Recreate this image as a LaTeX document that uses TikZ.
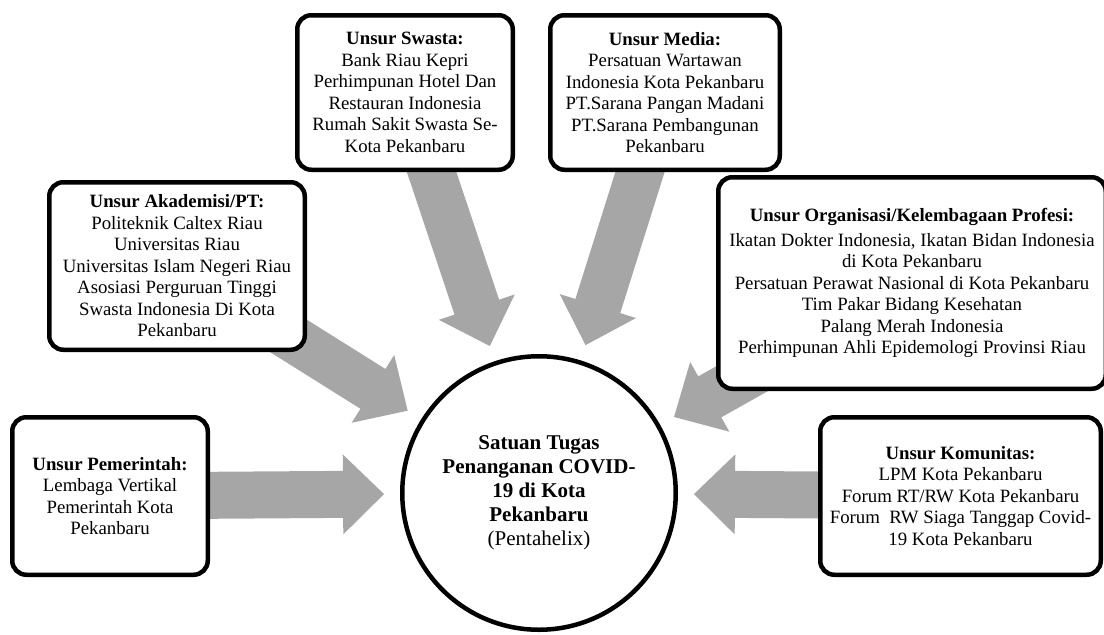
\documentclass[tikz,border=0pt]{standalone}
\usepackage{fontspec}
\setmainfont{Liberation Serif}
\usetikzlibrary{calc,backgrounds}
\definecolor{arrowgrey}{RGB}{166,166,166}
\tikzset{
  unitbox/.style={draw=black, line width=4.5pt, rounded corners=14pt, fill=white,
    align=center, inner sep=0pt, font=\fontsize{18.8}{21.5}\selectfont},
  hubcircle/.style={circle, draw=black, line width=4.5pt, fill=white, align=center,
    inner sep=0pt, minimum size=273.5pt, font=\fontsize{21}{24}\selectfont},
  arrowfill/.style={fill=arrowgrey},
}
\newcommand\blockarrow[1]{%
  \coordinate (T#1) at ($(circ.center)!155pt!(#1.center)$);
  \coordinate (H#1) at ($(T#1)!41pt!(#1.center)$);
  \fill[arrowfill] ($(#1.center)!23.5pt!90:(T#1)$) -- ($(H#1)!23.5pt!90:(T#1)$)
    -- ($(H#1)!40pt!90:(T#1)$) -- (T#1) -- ($(H#1)!40pt!-90:(T#1)$)
    -- ($(H#1)!23.5pt!-90:(T#1)$) -- ($(#1.center)!23.5pt!-90:(T#1)$) -- cycle;
}
\begin{document}
\begin{tikzpicture}[x=1pt,y=-1pt]
\useasboundingbox (0,0) rectangle (1104,635);

\node[hubcircle] (circ) at (539,493)
  {\textbf{Satuan Tugas}\\\textbf{Penanganan COVID-}\\\textbf{19 di Kota}\\\textbf{Pekanbaru}\\(Pentahelix)};

\node[unitbox, minimum width=195.5pt, minimum height=157.5pt] (pem) at (110,496)
  {\textbf{Unsur Pemerintah:}\\Lembaga Vertikal\\Pemerintah Kota\\Pekanbaru};

\node[unitbox, minimum width=255.5pt, minimum height=167.5pt] (aka) at (177,266)
  {\textbf{Unsur Akademisi/PT:}\\Politeknik Caltex Riau\\Universitas Riau\\Universitas Islam Negeri Riau\\Asosiasi Perguruan Tinggi\\Swasta Indonesia Di Kota\\Pekanbaru};

\node[unitbox, minimum width=215.5pt, minimum height=154.5pt] (swa) at (405,92.5)
  {\textbf{Unsur Swasta:}\\Bank Riau Kepri\\Perhimpunan Hotel Dan\\Restauran Indonesia\\Rumah Sakit Swasta Se-\\Kota Pekanbaru};

\node[unitbox, minimum width=229.5pt, minimum height=154.5pt] (med) at (665,92.5)
  {\textbf{Unsur Media:}\\Persatuan Wartawan\\Indonesia Kota Pekanbaru\\PT.Sarana Pangan Madani\\PT.Sarana Pembangunan\\Pekanbaru};

\node[unitbox, minimum width=387.5pt, minimum height=211.5pt] (org) at (912,283)
  {\textbf{Unsur Organisasi/Kelembagaan Profesi:}\\[3pt]Ikatan Dokter Indonesia, Ikatan Bidan Indonesia\\di Kota Pekanbaru\\Persatuan Perawat Nasional di Kota Pekanbaru\\Tim Pakar Bidang Kesehatan\\Palang Merah Indonesia\\Perhimpunan Ahli Epidemologi Provinsi Riau};

\node[unitbox, minimum width=280.5pt, minimum height=157.5pt] (kom) at (960.5,496)
  {\textbf{Unsur Komunitas:}\\LPM Kota Pekanbaru\\Forum RT/RW Kota Pekanbaru\\Forum \ RW Siaga Tanggap Covid-\\19 Kota Pekanbaru};

\begin{pgfonlayer}{background}
  \blockarrow{pem}
  \blockarrow{aka}
  \blockarrow{swa}
  \blockarrow{med}
  \blockarrow{org}
  \blockarrow{kom}
\end{pgfonlayer}
\end{tikzpicture}
\end{document}
